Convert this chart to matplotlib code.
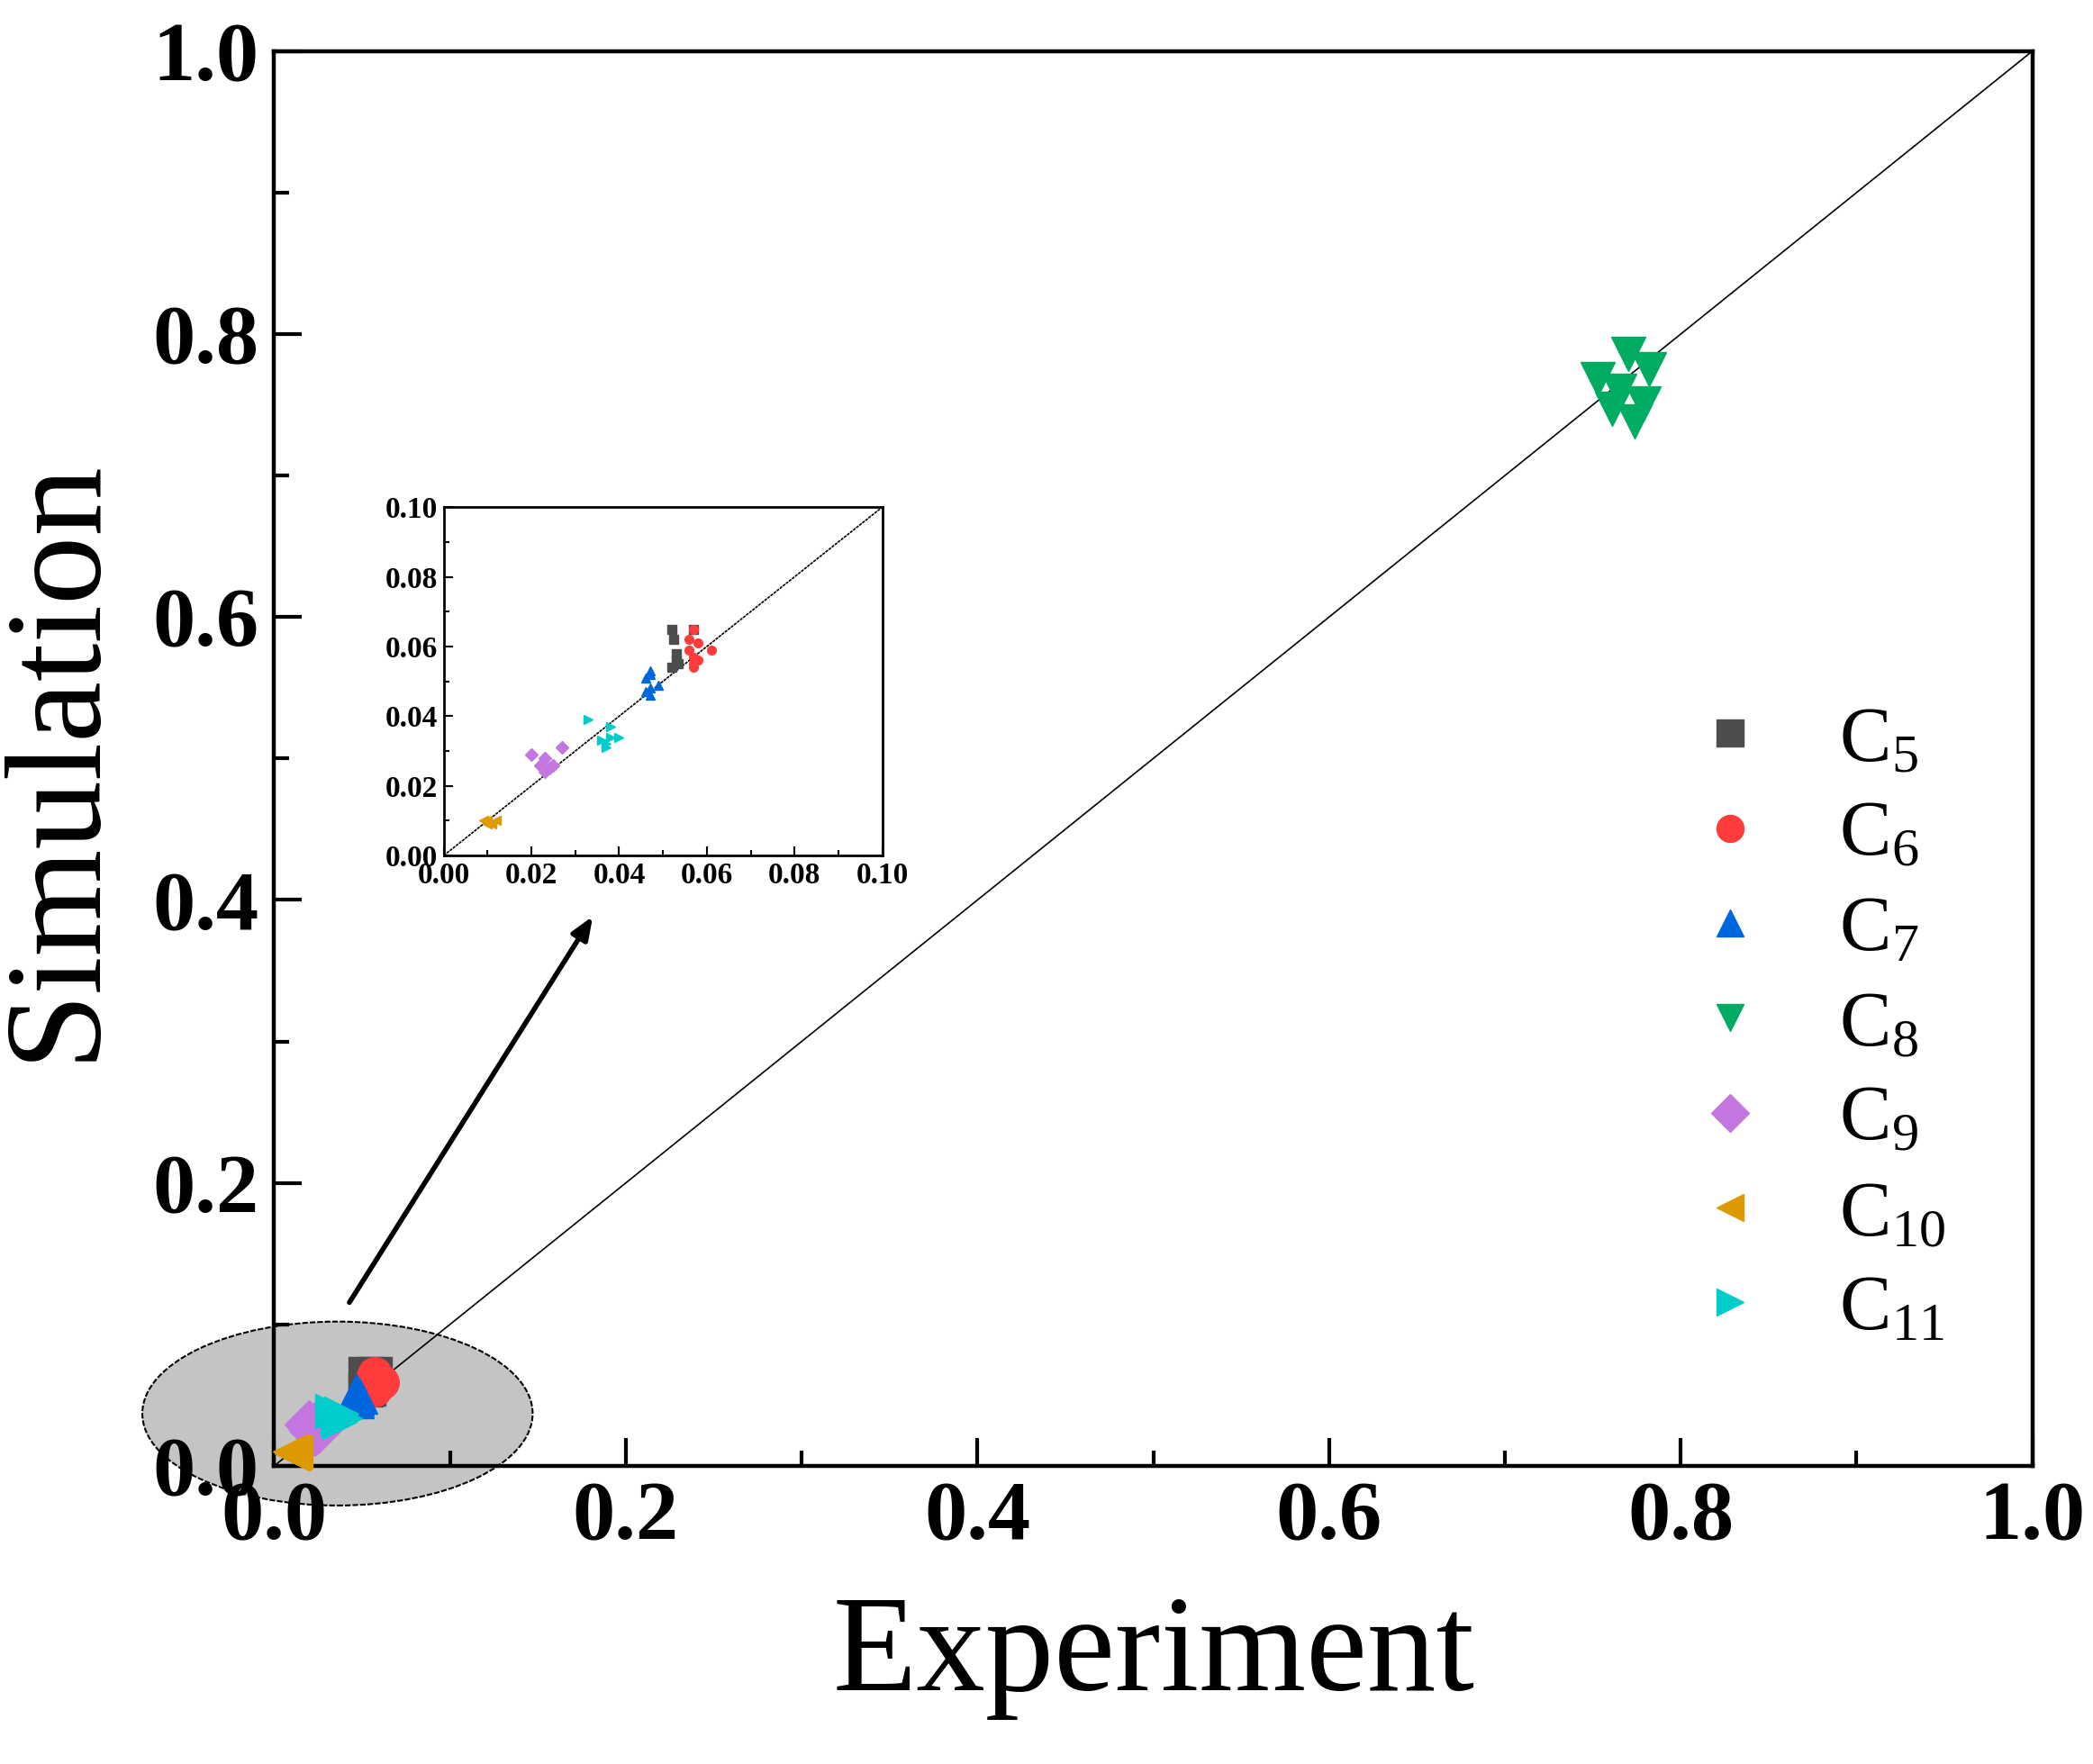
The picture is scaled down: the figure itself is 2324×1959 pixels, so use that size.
import matplotlib
matplotlib.use("Agg")
import matplotlib.pyplot as plt
from matplotlib.patches import Ellipse

plt.rcParams["mathtext.fontset"] = "custom"
plt.rcParams["mathtext.rm"] = "Liberation Serif"
plt.rcParams["mathtext.it"] = "Liberation Serif:italic"
plt.rcParams["mathtext.bf"] = "Liberation Serif:bold"

labels = ["5", "6", "7", "8", "9", "10", "11"]
markers = ["s", "o", "^", "v", "D", "<", ">"]
colors = ["#4d4d4d", "#ff3b3b", "#0066dd", "#00ab62", "#c476e0", "#dd9900", "#00cccc"]

c5_x = [0.052, 0.0525, 0.053, 0.053, 0.052, 0.057, 0.0535]
c5_y = [0.065, 0.062, 0.058, 0.056, 0.054, 0.065, 0.055]
c6_x = [0.057, 0.056, 0.058, 0.061, 0.056, 0.057, 0.058, 0.057, 0.057]
c6_y = [0.065, 0.062, 0.061, 0.059, 0.059, 0.057, 0.056, 0.055, 0.054]
c7_x = [0.047, 0.046, 0.047, 0.049, 0.047, 0.046, 0.047]
c7_y = [0.053, 0.051, 0.052, 0.049, 0.048, 0.047, 0.046]
c8_x = [0.770, 0.782, 0.753, 0.765, 0.779, 0.761, 0.774]
c8_y = [0.786, 0.775, 0.768, 0.760, 0.751, 0.747, 0.738]
c9_x = [0.020, 0.027, 0.023, 0.022, 0.024, 0.025, 0.023]
c9_y = [0.029, 0.031, 0.028, 0.026, 0.025, 0.026, 0.024]
c10_x = [0.009, 0.010, 0.011, 0.012, 0.010]
c10_y = [0.010, 0.009, 0.009, 0.010, 0.010]
c11_x = [0.033, 0.038, 0.036, 0.037, 0.040, 0.038, 0.037]
c11_y = [0.039, 0.037, 0.033, 0.032, 0.034, 0.034, 0.031]

xs = [c5_x, c6_x, c7_x, c8_x, c9_x, c10_x, c11_x]
ys = [c5_y, c6_y, c7_y, c8_y, c9_y, c10_y, c11_y]

serif = "Liberation Serif"
fig = plt.figure(figsize=(23.24, 19.59), dpi=100)
ax = fig.add_axes([0.131, 0.169, 0.840, 0.802])
ax.set_xlim(0, 1); ax.set_ylim(0, 1)
ax.plot([0, 1], [0, 1], color="black", lw=1.2, zorder=2)

ell = Ellipse((0.036, 0.037), 0.222, 0.13, facecolor="#c4c4c4", edgecolor="black",
              lw=1.5, ls=(0, (3, 1)), clip_on=False, zorder=1)
ax.add_patch(ell)

for x, y, m, c, l in zip(xs, ys, markers, colors, labels):
    ax.plot(x, y, ls="none", marker=m, ms=27, color=c, label=r"C$_{%s}$" % l, zorder=3,
            clip_on=False)

ax.annotate("", xy=(0.182, 0.39), xytext=(0.042, 0.114),
            arrowprops=dict(arrowstyle="-|>,head_length=1.5,head_width=0.6", lw=4, color="black"))

ax.set_xticks([0, 0.2, 0.4, 0.6, 0.8, 1.0])
ax.set_yticks([0, 0.2, 0.4, 0.6, 0.8, 1.0])
ax.set_xticklabels(["0.0", "0.2", "0.4", "0.6", "0.8", "1.0"])
ax.set_yticklabels(["0.0", "0.2", "0.4", "0.6", "0.8", "1.0"])
ax.set_xticks([0.1, 0.3, 0.5, 0.7, 0.9], minor=True)
ax.set_yticks([0.1, 0.3, 0.5, 0.7, 0.9], minor=True)
ax.tick_params(which="major", direction="in", length=22, width=3, labelsize=68, pad=12)
ax.tick_params(which="minor", direction="in", length=12, width=3)
for t in ax.get_xticklabels() + ax.get_yticklabels():
    t.set_fontfamily(serif); t.set_fontweight("bold")
for s in ax.spines.values():
    s.set_linewidth(3.2)
ax.set_xlabel("Experiment", fontsize=110, fontfamily=serif, labelpad=30)
ax.set_ylabel("Simulation", fontsize=110, fontfamily=serif, labelpad=25)

leg = ax.legend(loc="lower right", bbox_to_anchor=(0.99, 0.035), frameon=False,
                prop={"family": serif, "size": 62}, markerscale=0.8,
                labelspacing=0.3, handletextpad=0.6, handlelength=1.6)

ins = fig.add_axes([0.212, 0.515, 0.2095, 0.1975])
ins.set_xlim(0, 0.1); ins.set_ylim(0, 0.1)
ins.plot([0, 0.1], [0, 0.1], color="black", lw=1.2, ls=(0, (2, 0.6)))
for x, y, m, c in zip(xs, ys, markers, colors):
    ins.plot(x, y, ls="none", marker=m, ms=7, color=c)
tk = [0, 0.02, 0.04, 0.06, 0.08, 0.10]
tl = ["0.00", "0.02", "0.04", "0.06", "0.08", "0.10"]
ins.set_xticks(tk); ins.set_yticks(tk)
ins.set_xticklabels(tl); ins.set_yticklabels(tl)
ins.set_xticks([0.01, 0.03, 0.05, 0.07, 0.09], minor=True)
ins.set_yticks([0.01, 0.03, 0.05, 0.07, 0.09], minor=True)
ins.tick_params(which="major", direction="in", length=7, width=1.5, labelsize=24, pad=5)
ins.tick_params(which="minor", direction="in", length=4, width=1.5)
for t in ins.get_xticklabels() + ins.get_yticklabels():
    t.set_fontfamily(serif); t.set_fontweight("bold")
for s in ins.spines.values():
    s.set_linewidth(2)

fig.savefig("out.png", dpi=100)
